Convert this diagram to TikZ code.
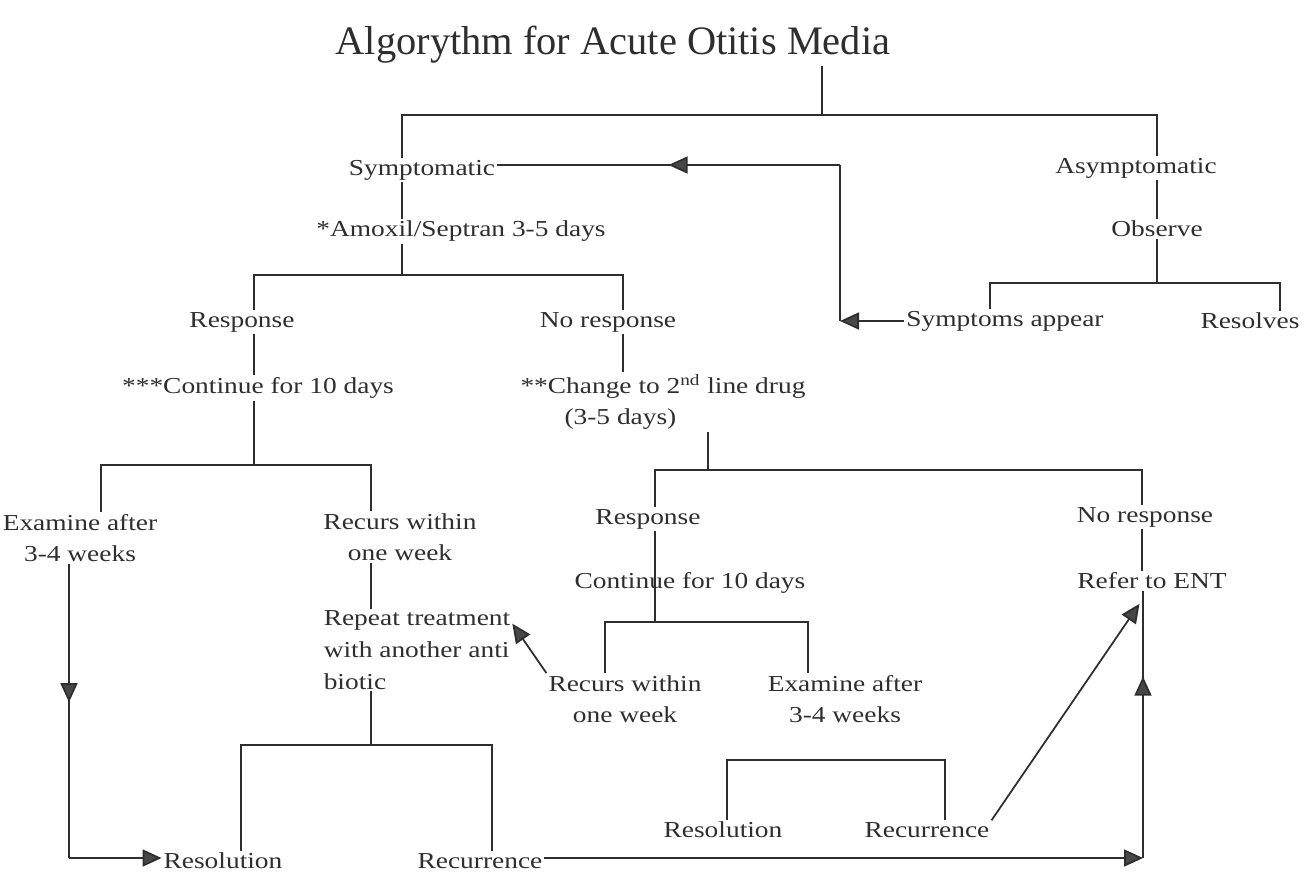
\documentclass[tikz,border=0pt]{standalone}
\usepackage{fontspec}
\setmainfont{Liberation Serif}[FakeStretch=1.2]
\newfontfamily\titlefont{Liberation Serif}
\usetikzlibrary{arrows.meta,decorations.markings}

\definecolor{ink}{HTML}{2E2E2E}
\definecolor{tipgray}{HTML}{474747}

\tikzset{
  txt/.style={inner sep=1pt,text=ink,align=center,font=\fontsize{13}{18}\selectfont},
  conn/.style={draw=ink,line width=1pt},
  arrowline/.style={conn,-{Triangle[length=0.38cm,width=0.34cm,fill=tipgray]}},
  midarrow/.style={conn,postaction={decorate},
    decoration={markings,mark=at position #1 with {\arrow{Triangle[length=0.38cm,width=0.34cm,fill=tipgray]}}}}
}

\begin{document}
\begin{tikzpicture}[x=0.02cm,y=-0.02cm]

\useasboundingbox (0,0) rectangle (1312,880);

%% - Draw title
%% - --------------------------------------
\node[inner sep=1pt,text=ink,font=\titlefont\fontsize{23}{26}\selectfont] (title) at (613,45) {Algorythm for Acute Otitis Media};

%% - Draw Text
%% - --------------------------------------
\node[txt] (symp) at (422,170) {Symptomatic};
\node[txt] (asymp) at (1136,168) {Asymptomatic};
\node[txt] (observe) at (1157,229) {Observe};
\node[txt] (sapp) at (1005,321) {Symptoms appear};
\node[txt] (resolves) at (1250,321) {Resolves};

\node[txt] (amox) at (461,231) {*Amoxil/Septran 3-5 days};
\node[txt] (resp1) at (242,322) {Response};
\node[txt] (noresp1) at (608,322) {No response};
\node[txt] (cont1) at (258,388) {***Continue for 10 days};
\node[txt,align=left] (change) at (663,402) {**Change to 2\textsuperscript{nd} line drug\\\hspace*{0.88cm}(3-5 days)};

\node[txt] (exam1) at (80,538) {Examine after\\3-4 weeks};
\node[txt] (recur1) at (400,537) {Recurs within\\one week};
\node[txt,align=left] (repeat) at (417,650) {Repeat treatment\\with another anti\\biotic};
\node[txt] (resol1) at (223,861) {Resolution};
\node[txt] (recurr1) at (480,861) {Recurrence};

\node[txt] (resp2) at (648,519) {Response};
\node[txt] (noresp2) at (1145,517) {No response};
\node[txt] (cont2) at (690,583) {Continue for 10 days};
\node[txt] (refer) at (1152,581) {Refer to ENT};
\node[txt] (recur2) at (625,699) {Recurs within\\one week};
\node[txt] (exam2) at (845,699) {Examine after\\3-4 weeks};
\node[txt] (resol2) at (723,830) {Resolution};
\node[txt] (recurr2) at (927,830) {Recurrence};

%% - Draw brackets
%% - --------------------------------------
\coordinate (top) at (822,115);
\coordinate (brA1) at (402,115);
\coordinate (brA2) at (1157,115);
\draw[conn] (title.south -| top) -- (top);
\draw[conn] (brA1 |- symp.north) -- (brA1) -- (brA2) -- (brA2 |- asymp.north);
\draw[conn] (brA1 |- symp.south) -- (brA1 |- amox.north);
\draw[conn] (brA2 |- asymp.south) -- (brA2 |- observe.north);

%% - Observe
\coordinate (brB) at (1157,283);
\coordinate (brB1) at (990,283);
\coordinate (brB2) at (1280,283);
\draw[conn] (observe.south -| brB) -- (brB);
\draw[conn] (brB1 |- sapp.north) -- (brB1) -- (brB2) -- (brB2 |- resolves.north);

%% - Amoxil/Septran
\coordinate (brC) at (402,275);
\coordinate (brC1) at (254,275);
\coordinate (brC2) at (623,275);
\draw[conn] (amox.south -| brC) -- (brC);
\draw[conn] (brC1 |- resp1.north) -- (brC1) -- (brC2) -- (brC2 |- noresp1.north);
\draw[conn] (brC1 |- resp1.south) -- (brC1 |- cont1.north);
\draw[conn] (brC2 |- noresp1.south) -- (brC2 |- change.north);

%% - Continue for 10 days (left)
\coordinate (brD) at (254,465);
\coordinate (brD1) at (101,465);
\coordinate (brD2) at (371,465);
\draw[conn] (cont1.south -| brD) -- (brD);
\draw[conn] (brD1 |- exam1.north) -- (brD1) -- (brD2) -- (brD2 |- recur1.north);
\draw[conn] (brD2 |- recur1.south) -- (brD2 |- repeat.north);

%% - Repeat treatment
\coordinate (brG) at (371,745);
\coordinate (brG1) at (241,745);
\coordinate (brG2) at (492,745);
\draw[conn] (repeat.south -| brG) -- (brG);
\draw[conn] (brG1 |- resol1.north) -- (brG1) -- (brG2) -- (brG2 |- recurr1.north);

%% - Change to 2nd line drug
\coordinate (brE) at (708,470);
\coordinate (brE1) at (655,470);
\coordinate (brE2) at (1142,470);
\draw[conn] (change.south -| brE) -- (brE);
\draw[conn] (brE1 |- resp2.north) -- (brE1) -- (brE2) -- (brE2 |- noresp2.north);
\draw[conn] (brE2 |- noresp2.south) -- (brE2 |- refer.north);

%% - Continue for 10 days (right)
\coordinate (brF) at (655,622);
\coordinate (brF1) at (605,622);
\coordinate (brF2) at (808,622);
\draw[conn] (resp2.south -| brF) -- (brF);
\draw[conn] (brF1 |- recur2.north) -- (brF1) -- (brF2) -- (brF2 |- exam2.north);

%% - Resolution / Recurrence (right)
\coordinate (brH1) at (727,760);
\coordinate (brH2) at (945,760);
\draw[conn] (brH1 |- resol2.north) -- (brH1) -- (brH2) -- (brH2 |- recurr2.north);

%% - Draw arrows
%% - --------------------------------------
\coordinate (corA) at (840,321);
\coordinate (corB) at (840,165);
\draw[arrowline] (sapp.west) -- (corA);
\draw[conn] (corA) -- (corB);
\draw[midarrow=0.5] (corB) -- (symp.east |- corB);

\coordinate (corC) at (69,858);
\draw[midarrow=0.47] (exam1.south -| corC) -- (corC);
\draw[arrowline] (corC) -- (resol1.west |- corC);

\coordinate (corD) at (1143,858);
\draw[arrowline] (recurr1.east |- corD) -- (corD);
\draw[midarrow=0.68] (corD) -- (refer.south -| corD);

\draw[arrowline] (recur2.north west) -- ([yshift=-0.3cm]repeat.north east);
\draw[arrowline] (recurr2.north east) -- ([xshift=-0.25cm,yshift=-0.25cm]refer.south);

\end{tikzpicture}
\end{document}
